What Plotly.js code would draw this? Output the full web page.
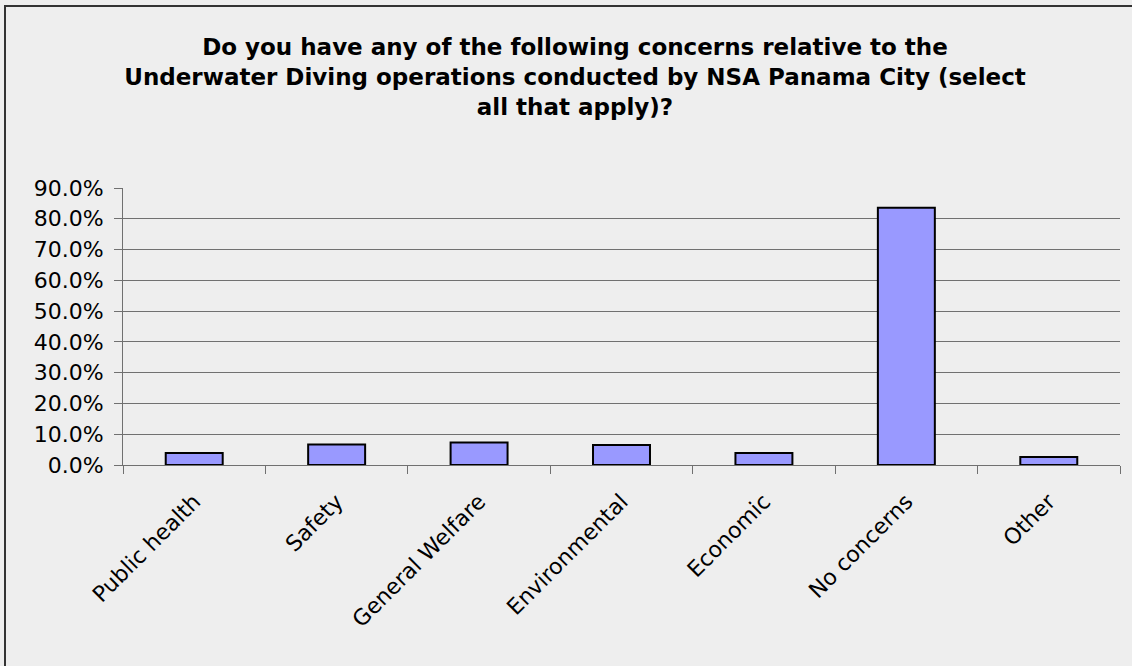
<!DOCTYPE html>
<html>
<head>
<meta charset="utf-8">
<script src="https://cdn.plot.ly/plotly-3.0.1.min.js"></script>
<style>
  html, body { margin: 0; padding: 0; background: #eeeeee; overflow: hidden; }
  #wrap { position: relative; width: 1132px; height: 666px; overflow: hidden; }
  #chart { width: 1132px; height: 666px; }
  #frame { position: absolute; left: 4px; top: 5px; width: 1128px; height: 661px;
           border-top: 2px solid #333333; border-left: 2px solid #333333; box-sizing: border-box;
           pointer-events: none; }
</style>
</head>
<body>
<div id="wrap">
<div id="chart"></div>
<div id="frame"></div>
</div>
<script>
const categories = ["Public health", "Safety", "General Welfare", "Environmental", "Economic", "No concerns", "Other"];
const shares = [0.039, 0.067, 0.073, 0.065, 0.039, 0.836, 0.026];
const yTickValues = [0, 0.1, 0.2, 0.3, 0.4, 0.5, 0.6, 0.7, 0.8, 0.9];
const titleText = "Do you have any of the following concerns relative to the<br>Underwater Diving operations conducted by NSA Panama City (select<br>all that apply)?";

const W = 1132, H = 666;
const M = {l: 123, r: 12, t: 188, b: 201};

const trace = {
  type: "bar",
  x: categories,
  y: shares,
  width: 0.4,
  marker: {color: "#9999ff", line: {color: "#000000", width: 2}},
  hoverinfo: "x+y"
};

const fam = "DejaVu Sans, Verdana, sans-serif";

const layout = {
  width: W, height: H,
  margin: M,
  paper_bgcolor: "#eeeeee",
  plot_bgcolor: "#eeeeee",
  showlegend: false,
  font: {family: fam, color: "#000000", size: 22},
  title: {
    text: titleText,
    font: {family: fam, size: 23, color: "#000000", weight: "bold"},
    x: 575 / W, xanchor: "center", xref: "container",
    y: 1 - 55 / H, yanchor: "top", yref: "container"
  },
  xaxis: {
    type: "category",
    tickangle: -45,
    showgrid: false,
    showline: true, linecolor: "#707070", linewidth: 1,
    ticks: "outside", tickson: "boundaries", ticklen: 8, tickcolor: "#707070",
    ticklabelstandoff: 14,
    tickfont: {size: 22, family: fam, color: "#000000"},
    fixedrange: true
  },
  yaxis: {
    range: [0, 0.9],
    tickvals: yTickValues,
    tickformat: ".1%",
    showgrid: true, gridcolor: "#707070", gridwidth: 1,
    showline: true, linecolor: "#707070", linewidth: 1,
    ticks: "outside", ticklen: 8, tickcolor: "#707070",
    ticklabelstandoff: 6,
    zeroline: false,
    tickfont: {size: 22, family: fam, color: "#000000"},
    fixedrange: true
  }
};

Plotly.newPlot("chart", [trace], layout, {displayModeBar: false, staticPlot: true});
</script>
</body>
</html>
